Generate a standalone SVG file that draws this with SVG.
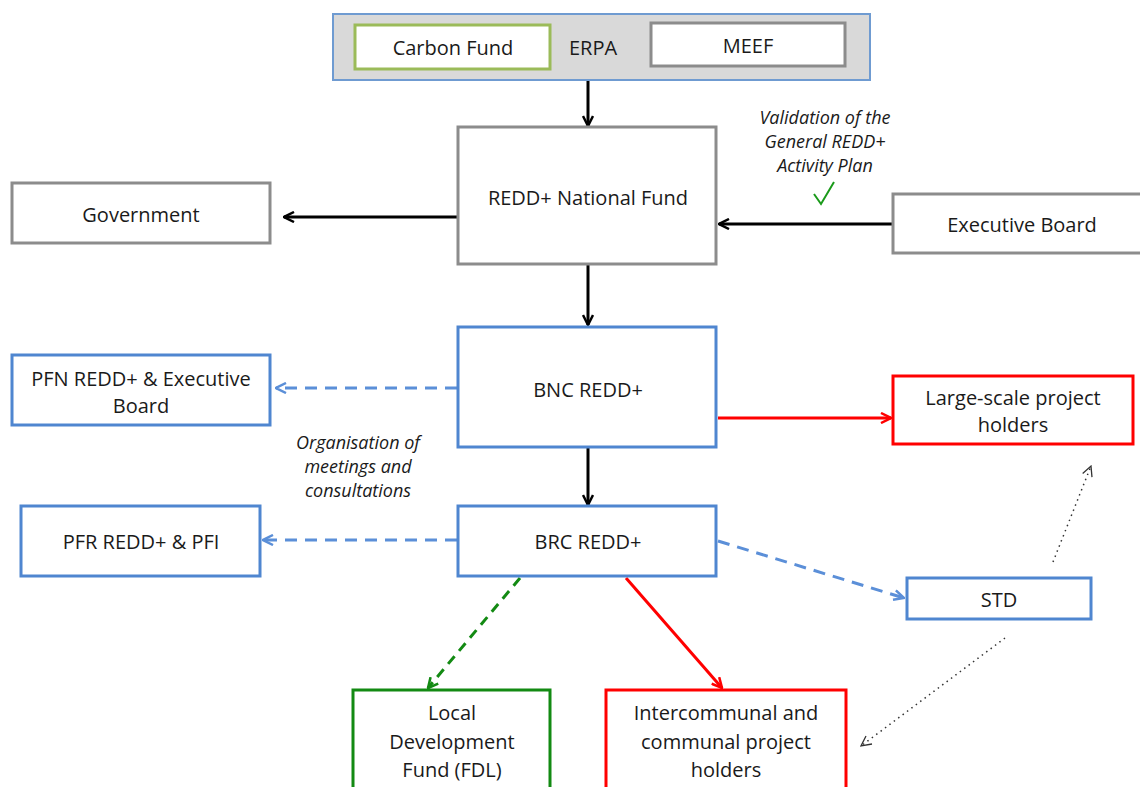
<svg xmlns="http://www.w3.org/2000/svg" width="1140" height="787" viewBox="0 0 1140 787">
  <defs>
    <style>
      text { font-family: "Open Sans", "Liberation Sans", sans-serif; font-size: 20px; fill: #1a1a1a; text-anchor: middle; dominant-baseline: central; }
      .it { font-style: italic; font-size: 18px; }
      .box { fill: #ffffff; stroke-width: 3; }
      .gray { stroke: #8c8c8c; }
      .blue { stroke: #4f86d0; }
      .red { stroke: #ff0000; }
      .green { stroke: #138a13; }
      .lime { stroke: #9bbb59; }
      .edge { fill: none; stroke-width: 3; }
      .k { stroke: #000000; }
      .b { stroke: #5b8fd8; stroke-dasharray: 12 8; }
      .r { stroke: #ff0000; }
      .g { stroke: #138a13; stroke-dasharray: 10 7; }
      .dot { stroke: #333333; stroke-width: 1.5; stroke-dasharray: 1.5 4; }
    </style>
    <marker id="ak" viewBox="0 0 12 12" refX="11" refY="6" markerWidth="12" markerHeight="12" markerUnits="userSpaceOnUse" orient="auto">
      <path d="M1,1 L11,6 L1,11" fill="none" stroke="#000" stroke-width="2.5"/>
    </marker>
    <marker id="ab" viewBox="0 0 12 12" refX="11" refY="6" markerWidth="12" markerHeight="12" markerUnits="userSpaceOnUse" orient="auto">
      <path d="M1,1 L11,6 L1,11" fill="none" stroke="#5b8fd8" stroke-width="2.5"/>
    </marker>
    <marker id="ar" viewBox="0 0 12 12" refX="11" refY="6" markerWidth="12" markerHeight="12" markerUnits="userSpaceOnUse" orient="auto">
      <path d="M1,1 L11,6 L1,11" fill="none" stroke="#ff0000" stroke-width="2.5"/>
    </marker>
    <marker id="ag" viewBox="0 0 12 12" refX="11" refY="6" markerWidth="12" markerHeight="12" markerUnits="userSpaceOnUse" orient="auto">
      <path d="M1,1 L11,6 L1,11" fill="none" stroke="#138a13" stroke-width="2.5"/>
    </marker>
    <marker id="ad" viewBox="0 0 12 12" refX="11" refY="6" markerWidth="12" markerHeight="12" markerUnits="userSpaceOnUse" orient="auto">
      <path d="M1,1 L11,6 L1,11" fill="none" stroke="#333" stroke-width="1.3"/>
    </marker>
  </defs>

  <rect width="1140" height="787" fill="#ffffff"/>

  <!-- connectors -->
  <g id="connectors">
    <line class="edge k" x1="588" y1="81" x2="588" y2="126" marker-end="url(#ak)"/>
    <line class="edge k" x1="457" y1="217" x2="284" y2="217" marker-end="url(#ak)"/>
    <line class="edge k" x1="892" y1="224" x2="719" y2="224" marker-end="url(#ak)"/>
    <line class="edge k" x1="588" y1="265" x2="588" y2="325" marker-end="url(#ak)"/>
    <line class="edge k" x1="588" y1="448" x2="588" y2="505" marker-end="url(#ak)"/>
    <line class="edge b" x1="457" y1="388" x2="276" y2="388" marker-end="url(#ab)"/>
    <line class="edge b" x1="457" y1="540" x2="263" y2="540" marker-end="url(#ab)"/>
    <line class="edge b" x1="718" y1="541" x2="904" y2="598" marker-end="url(#ab)"/>
    <line class="edge r" x1="718" y1="418" x2="891" y2="418" marker-end="url(#ar)"/>
    <line class="edge r" x1="626" y1="578" x2="722" y2="688" marker-end="url(#ar)"/>
    <line class="edge g" x1="520" y1="578" x2="428" y2="688" marker-end="url(#ag)"/>
    <line class="edge dot" x1="1053" y1="562" x2="1091" y2="466" marker-end="url(#ad)"/>
    <line class="edge dot" x1="1005" y1="638" x2="861" y2="746" marker-end="url(#ad)"/>
  </g>

  <!-- funding sources -->
  <g id="erpa">
    <rect x="333" y="14" width="537" height="66" fill="#d9d9d9" stroke="#6f9bd1" stroke-width="2"/>
    <text x="593" y="47">ERPA</text>
  </g>
  <g id="carbon-fund">
    <rect class="box lime" x="355" y="25" width="195" height="44"/>
    <text x="453" y="47">Carbon Fund</text>
  </g>
  <g id="meef">
    <rect class="box gray" x="651" y="23" width="194" height="43"/>
    <text x="748" y="45">MEEF</text>
  </g>

  <g id="national-fund">
    <rect class="box gray" x="458" y="127" width="258" height="137"/>
    <text x="588" y="197">REDD+ National Fund</text>
  </g>
  <g id="government">
    <rect class="box gray" x="12" y="183" width="258" height="60"/>
    <text x="141" y="214">Government</text>
  </g>
  <g id="executive-board">
    <rect class="box gray" x="893" y="194" width="250" height="59"/>
    <text x="1022" y="224">Executive Board</text>
  </g>
  <g id="validation-note">
    <text class="it" x="825" y="117">Validation of the</text>
    <text class="it" x="825" y="141">General REDD+</text>
    <text class="it" x="825" y="165">Activity Plan</text>
    <path d="M814,194 L821,204 L834,182" fill="none" stroke="#1a9a1a" stroke-width="2"/>
  </g>

  <g id="bnc">
    <rect class="box blue" x="458" y="327" width="258" height="120"/>
    <text x="588" y="389">BNC REDD+</text>
  </g>
  <g id="pfn">
    <rect class="box blue" x="12" y="355" width="258" height="70"/>
    <text x="141" y="378">PFN REDD+ &amp; Executive</text>
    <text x="141" y="405">Board</text>
  </g>
  <g id="large-scale">
    <rect class="box red" x="893" y="376" width="240" height="68"/>
    <text x="1013" y="397">Large-scale project</text>
    <text x="1013" y="424">holders</text>
  </g>
  <g id="organisation-note">
    <text class="it" x="358" y="442">Organisation of</text>
    <text class="it" x="358" y="466">meetings and</text>
    <text class="it" x="358" y="490">consultations</text>
  </g>

  <g id="brc">
    <rect class="box blue" x="458" y="506" width="258" height="70"/>
    <text x="588" y="541">BRC REDD+</text>
  </g>
  <g id="pfr">
    <rect class="box blue" x="21" y="506" width="239" height="70"/>
    <text x="141" y="541">PFR REDD+ &amp; PFI</text>
  </g>
  <g id="std">
    <rect class="box blue" x="907" y="578" width="184" height="41"/>
    <text x="999" y="599">STD</text>
  </g>

  <g id="fdl">
    <rect class="box green" x="353" y="690" width="197" height="110"/>
    <text x="452" y="712">Local</text>
    <text x="452" y="741">Development</text>
    <text x="452" y="769">Fund (FDL)</text>
  </g>
  <g id="communal">
    <rect class="box red" x="606" y="690" width="240" height="110"/>
    <text x="726" y="712">Intercommunal and</text>
    <text x="726" y="741">communal project</text>
    <text x="726" y="769">holders</text>
  </g>
</svg>
